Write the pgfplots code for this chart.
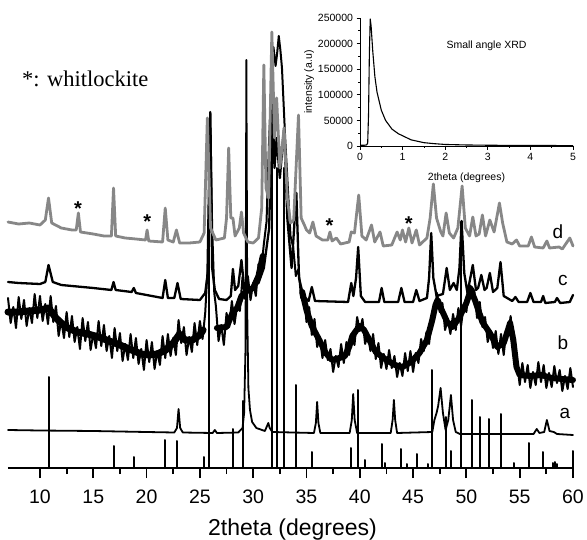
\documentclass[border=0pt]{standalone}
\usepackage{fontspec}
\setmainfont{Liberation Sans}
\newfontfamily\timesfont{Liberation Serif}
\usepackage{pgfplots}
\pgfplotsset{compat=1.18}
\definecolor{dgray}{gray}{0.53}
\begin{document}
\begin{tikzpicture}
\path (-8pt,-71pt) rectangle (579pt,468pt);
\begin{axis}[
  at={(0pt,0pt)}, anchor=south west,
  scale only axis, width=565pt, height=468pt,
  xmin=7, xmax=60, ymin=0, ymax=468,
  axis x line=bottom, axis y line=none,
  axis line style={-, line width=1.8pt},
  xtick={10,15,...,60}, minor x tick num=1,
  xticklabels={},
  tick align=outside, major tick length=10pt, minor tick length=6pt,
  every tick/.style={line width=1.8pt, black},
  ytick=\empty,
  clip=false,
  every axis plot/.append style={line join=round, line cap=round},
]
% reference sticks
\addplot[ycomb, black, line width=2pt] coordinates {
(10.85,91) (16.9,22) (18.8,11) (21.75,28) (22.9,27) (25.4,11) (25.9,246) (28.15,39) (29.0,67) (31.75,385) (32.2,300) (32.9,300) (34.05,83) (35.5,16) (39.2,20) (39.8,78) (40.45,8) (42.05,24) (42.4,5) (43.9,19) (44.4,4) (45.35,14) (46.4,4) (46.75,98) (48.1,51) (48.6,17) (49.5,246) (50.55,68) (51.3,51) (52.1,49) (53.2,54) (54.5,5) (55.9,25) (57.15,16) (58.1,5) (58.3,6) (58.5,4) (60,17)
};
% trace a
\addplot[black, line width=1.8pt] coordinates {
(7,38) (10,37.5) (15,37) (20,36) (22.6,35.5) (22.85,40) (23.0,59) (23.15,40) (23.4,35.5) (26.2,35) (26.4,38) (26.6,35) (28.6,35.5) (29.0,40) (29.15,55) (29.28,120) (29.36,408) (29.45,150) (29.55,80) (29.7,58) (29.9,46) (30.3,40) (31.1,37) (31.3,42) (31.42,45) (31.55,40) (31.8,36) (35.7,35) (35.88,45) (36.0,66) (36.12,45) (36.3,35) (39.05,35) (39.25,48) (39.38,74) (39.52,48) (39.75,35) (42.9,35) (43.08,48) (43.2,68) (43.32,48) (43.5,35) (46.8,36) (47.0,48) (47.2,55) (47.35,62) (47.58,80) (47.8,55) (48.05,38) (48.3,48) (48.55,73) (48.75,48) (49.0,36) (49.4,34) (56.3,34) (56.6,39) (56.85,35) (57.3,36) (57.55,48) (57.8,37) (58.2,36) (58.5,34) (60,33)
};
% trace b: band core
\addplot[black, line width=7pt] coordinates {
(7,156) (8,156) (9,157) (10,158) (10.8,160) (11.5,150) (12.4,141) (13.5,136) (14.5,134) (15.5,131) (16.5,127) (17.5,123) (18.6,118) (19.5,114) (20.2,113) (21,114) (21.8,118) (22.5,125) (23.1,134) (23.6,128) (24.3,128) (25,133) (25.3,138)
};
\addplot[black, line width=6pt] coordinates {
(26.6,140) (27.5,141) (28.1,156) (28.5,160) (28.9,172) (29.5,178) (30,180) (30.5,192) (30.9,212)
};
\addplot[black, line width=6pt] coordinates {
(34.6,176) (35,158) (35.5,142) (36.2,128) (36.8,115) (37.4,108) (38.1,110) (38.6,112) (39,121) (39.3,132) (39.7,138) (40,142) (40.4,138) (40.9,128) (41.5,116) (42.5,108) (43.3,103) (44,101) (44.8,106) (45.6,115) (46.3,128) (46.8,148) (47.1,163) (47.3,168) (47.6,160) (48.2,146) (48.7,141) (49.3,150) (50,165) (50.4,178) (50.8,168) (51.5,146) (52.2,135) (52.9,121) (53.5,125) (53.9,138) (54.1,145) (54.4,128) (54.7,101) (55,93) (56,92) (57,93) (58,90) (59,89) (60,88)
};
% trace b: noise
\addplot[black, line width=2pt] coordinates {
(7,170) (7.25,145) (7.5,161) (7.75,140) (8,171) (8.25,149) (8.5,168) (8.75,142) (9,160) (9.25,145) (9.5,174) (9.75,150) (10,172) (10.25,147) (10.5,164) (10.75,144) (11,172) (11.25,146) (11.5,162) (11.75,132) (12,148) (12.25,130) (12.5,156) (12.75,131) (13,152) (13.25,126) (13.5,141) (13.75,119) (14,150) (14.25,127) (14.5,146) (14.75,118) (15,135) (15.25,120) (15.5,147) (15.75,122) (16,143) (16.25,117) (16.5,132) (16.75,110) (17,140) (17.25,117) (17.5,135) (17.75,107) (18,124) (18.25,108) (18.5,134) (18.75,110) (19,130) (19.25,104) (19.5,119) (19.75,98) (20,128) (20.25,106) (20.5,126) (20.75,99) (21,117) (21.25,103) (21.5,132) (21.75,110) (22,134) (22.25,112) (22.5,130) (22.75,113) (23,148) (23.25,125) (23.5,141) (23.75,113) (24,131) (24.25,116) (24.5,145) (24.75,123) (25,147) (25.25,129) (25.5,155) (25.7,195) (25.85,290) (26.0,340) (26.15,240) (26.35,175) (26.5,162) (26.75,127) (27,143) (27.25,123) (27.5,155) (27.75,141) (28,167) (28.25,144) (28.5,163) (28.75,157) (29,191) (29.25,169) (29.5,192) (29.75,168) (30,185) (30.25,172) (30.5,204) (30.75,198) (31,224) (31.25,246) (31.5,330) (31.75,390) (31.9,421) (32.1,402) (32.25,415) (32.4,432) (32.55,418) (32.7,400) (32.85,365) (33,330) (33.25,280) (33.5,232) (33.75,221) (34,192) (34.25,199) (34.5,170) (34.75,177) (35,146) (35.25,161) (35.5,133) (35.75,149) (36,121) (36.25,131) (36.5,110) (36.75,128) (37,108) (37.25,119) (37.5,96) (37.75,112) (38,101) (38.25,124) (38.5,105) (38.75,126) (39,113) (39.25,134) (39.5,123) (39.75,151) (40,137) (40.25,149) (40.5,124) (40.75,134) (41,117) (41.25,134) (41.5,109) (41.75,125) (42,100) (42.25,114) (42.5,99) (42.75,118) (43,100) (43.25,112) (43.5,91) (43.75,105) (44,92) (44.25,115) (44.5,97) (44.75,117) (45,96) (45.25,115) (45.5,105) (45.75,129) (46,117) (46.25,136) (46.5,124) (46.75,151) (47,154) (47.25,175) (47.5,156) (47.75,165) (48,138) (48.25,149) (48.5,134) (48.75,154) (49,138) (49.25,160) (49.5,142) (49.75,163) (50,156) (50.25,183) (50.5,181) (50.75,177) (51,150) (51.25,166) (51.5,141) (51.75,151) (52,126) (52.25,137) (52.5,120) (52.75,137) (53,114) (53.25,134) (53.5,113) (53.75,138) (54,140) (54.15,152) (54.3,135) (54.5,122) (54.75,106) (55,83) (55.25,105) (55.5,86) (55.75,103) (56,80) (56.25,96) (56.5,83) (56.75,106) (57,86) (57.25,103) (57.5,80) (57.75,95) (58,81) (58.25,102) (58.5,85) (58.75,98) (59,77) (59.25,92) (59.5,79) (59.75,100) (60,81)
};
% trace c
\addplot[black, line width=2.3pt] coordinates {
(7,186) (8,185) (10,184) (10.5,186) (10.8,203) (11.2,186) (12,183) (15,180) (16.7,178) (16.9,186) (17.1,178) (18.6,176) (18.8,180) (19,175) (21.5,170) (21.75,188) (22,170) (22.6,170) (22.9,185) (23.2,169) (25,168) (25.5,175) (25.8,200) (25.98,356) (26.15,200) (26.4,178) (26.8,169) (27.5,168) (27.9,172) (28.1,199) (28.3,178) (28.6,182) (28.9,208) (29.2,175) (29.8,180) (30.5,185) (31,200) (31.5,240) (31.8,380) (32,300) (32.2,330) (32.5,290) (32.9,340) (33.2,250) (33.6,200) (34.05,275) (34.3,190) (34.7,172) (35.2,167) (35.5,181) (35.8,167) (38.9,166) (39.2,185) (39.4,172) (39.65,190) (39.85,221) (40.1,172) (40.5,166) (41.8,166) (42.05,180) (42.3,166) (43.6,166) (43.9,180) (44.2,166) (45,166) (45.3,178) (45.6,167) (46.3,170) (46.5,190) (46.7,235) (46.9,190) (47.2,172) (47.8,174) (48.15,200) (48.45,178) (48.8,185) (49.1,178) (49.35,200) (49.55,247) (49.8,195) (50.1,175) (50.6,203) (50.9,178) (51.1,180) (51.4,193) (51.7,178) (51.9,180) (52.2,195) (52.5,176) (52.9,180) (53.2,206) (53.5,172) (54.3,167) (54.6,171) (54.9,166) (55.7,166) (56,175) (56.3,166) (57,166) (57.2,172) (57.4,165) (58.3,166) (58.5,170) (58.8,165) (59.7,166) (60,173)
};
% trace d
\addplot[dgray, line width=2.8pt] coordinates {
(7,246) (8,244) (9,245) (10,243) (10.5,248) (10.8,270) (11.1,245) (12,240) (13,238) (13.4,238) (13.6,255) (13.8,236) (15,234) (16,232) (16.7,232) (16.9,280) (17.1,232) (18,230) (19,229) (19.9,228) (20.05,238) (20.2,227) (21.5,226) (21.75,260) (22,228) (22.5,226) (22.8,238) (23.1,225) (24,225) (25,226) (25.4,235) (25.7,350) (26,240) (26.5,228) (27.3,230) (27.5,250) (27.7,320) (27.9,250) (28.1,250) (28.3,232) (28.7,240) (28.9,256) (29.1,235) (29.5,226) (30,225) (30.5,230) (30.8,260) (31,403) (31.2,280) (31.45,270) (31.75,436) (32,330) (32.2,370) (32.5,300) (32.9,340) (33.2,270) (33.5,245) (33.8,248) (34.25,353) (34.5,250) (34.8,243) (35,238) (35.3,235) (35.6,246) (35.9,232) (36.5,228) (37,228) (37.2,236) (37.4,227) (37.8,230) (38.2,224) (39,226) (39.2,236) (39.5,235) (39.9,273) (40.2,232) (40.6,228) (41.1,243) (41.4,226) (41.9,236) (42.2,222) (43,223) (43.5,236) (43.8,228) (44,238) (44.3,226) (44.6,240) (44.9,225) (45.3,238) (45.6,223) (46.3,230) (46.6,250) (46.9,284) (47.2,250) (47.6,236) (47.8,232) (48.1,255) (48.4,235) (48.8,230) (49.2,240) (49.6,282) (49.9,240) (50.3,232) (50.6,251) (50.9,232) (51.2,234) (51.5,253) (51.8,232) (52.2,248) (52.6,236) (53.1,265) (53.4,245) (53.8,226) (54.3,224) (54.7,228) (55,222) (55.8,222) (56.1,231) (56.4,221) (57.2,220) (57.55,227) (57.8,220) (58.7,221) (59,219) (59.7,230) (60,222)
};
\node[font=\fontsize{19}{20}\selectfont, inner sep=0pt] at (axis cs:58.59,236) {d};
\node[font=\fontsize{19}{20}\selectfont, inner sep=0pt] at (axis cs:59.06,188) {c};
\node[font=\fontsize{19}{20}\selectfont, inner sep=0pt] at (axis cs:59.06,125) {b};
\node[font=\fontsize{19}{20}\selectfont, inner sep=0pt] at (axis cs:59.25,55) {a};
\node[font=\bfseries\fontsize{20}{20}\selectfont, inner sep=0pt, yshift=-4pt] at (axis cs:13.57,263) {*};
\node[font=\bfseries\fontsize{20}{20}\selectfont, inner sep=0pt, yshift=-4pt] at (axis cs:20.06,250) {*};
\node[font=\bfseries\fontsize{20}{20}\selectfont, inner sep=0pt, yshift=-4pt] at (axis cs:37.16,246) {*};
\node[font=\bfseries\fontsize{20}{20}\selectfont, inner sep=0pt, yshift=-4pt] at (axis cs:44.59,248) {*};
\node[font=\fontsize{19.5}{20}\selectfont, inner sep=0pt, anchor=base, yshift=-35pt] at (axis cs:10,0) {10};
\node[font=\fontsize{19.5}{20}\selectfont, inner sep=0pt, anchor=base, yshift=-35pt] at (axis cs:15,0) {15};
\node[font=\fontsize{19.5}{20}\selectfont, inner sep=0pt, anchor=base, yshift=-35pt] at (axis cs:20,0) {20};
\node[font=\fontsize{19.5}{20}\selectfont, inner sep=0pt, anchor=base, yshift=-35pt] at (axis cs:25,0) {25};
\node[font=\fontsize{19.5}{20}\selectfont, inner sep=0pt, anchor=base, yshift=-35pt] at (axis cs:30,0) {30};
\node[font=\fontsize{19.5}{20}\selectfont, inner sep=0pt, anchor=base, yshift=-35pt] at (axis cs:35,0) {35};
\node[font=\fontsize{19.5}{20}\selectfont, inner sep=0pt, anchor=base, yshift=-35pt] at (axis cs:40,0) {40};
\node[font=\fontsize{19.5}{20}\selectfont, inner sep=0pt, anchor=base, yshift=-35pt] at (axis cs:45,0) {45};
\node[font=\fontsize{19.5}{20}\selectfont, inner sep=0pt, anchor=base, yshift=-35pt] at (axis cs:50,0) {50};
\node[font=\fontsize{19.5}{20}\selectfont, inner sep=0pt, anchor=base, yshift=-35pt] at (axis cs:55,0) {55};
\node[font=\fontsize{19.5}{20}\selectfont, inner sep=0pt, anchor=base, yshift=-35pt] at (axis cs:60,0) {60};
\end{axis}
\node[anchor=base, inner sep=0pt, font=\fontsize{23}{24}\selectfont] at (284.5pt,-67pt) {2theta (degrees)};
\node[anchor=base west, inner sep=0pt, font=\timesfont\fontsize{22.5}{24}\selectfont] at (14pt,381pt) {*: whitlockite};
\begin{axis}[
  at={(352pt,322pt)}, anchor=south west,
  scale only axis, width=213pt, height=128pt,
  xmin=0, xmax=5, ymin=0, ymax=250000,
  axis x line=bottom, axis y line=left,
  axis line style={-, line width=0.8pt},
  xtick={0,1,...,5}, minor x tick num=1,
  ytick={0,50000,...,250000}, minor y tick num=1,
  scaled y ticks=false,
  yticklabel={\pgfmathprintnumber[fixed,1000 sep={}]{\tick}},
  tick align=outside, major tick length=3.5pt, minor tick length=2pt,
  every tick/.style={line width=0.7pt, black},
  /pgf/number format/assume math mode=true,
  ticklabel style={font=\fontsize{10.5}{11}\selectfont},
  xlabel={2theta (degrees)}, ylabel={intensity (a.u)},
  label style={font=\fontsize{10.5}{11}\selectfont},
  xlabel style={yshift=-6pt},
  ylabel style={yshift=-3pt},
]
\addplot[black, line width=1.1pt, line join=round] coordinates {
(0,1500) (0.1,1500) (0.15,2000) (0.18,5000) (0.2,60000) (0.22,180000) (0.24,248000) (0.26,235000) (0.3,185000) (0.35,135000) (0.4,105000) (0.5,70000) (0.6,50000) (0.75,33000) (0.9,24000) (1.0,20000) (1.2,12000) (1.5,6500) (1.75,4500) (2.0,3000) (2.5,2000) (3.0,1500) (3.5,1200) (4,1000) (4.5,900) (5,800)
};
\node[font=\fontsize{10.5}{11}\selectfont] at (axis cs:2.97,196000) {Small angle XRD};
\end{axis}
\end{tikzpicture}
\end{document}
